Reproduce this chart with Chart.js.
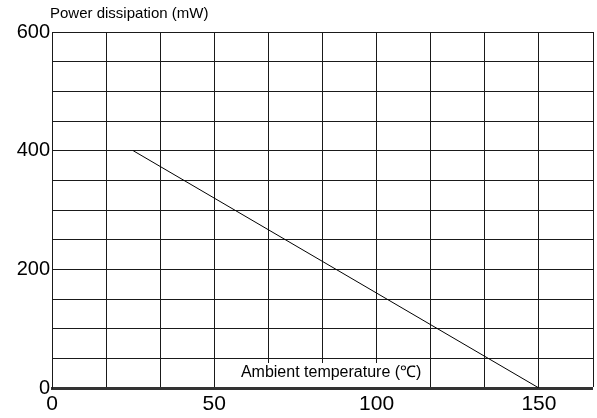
<!DOCTYPE html>
<html>
<head>
<meta charset="utf-8">
<script src="https://cdn.jsdelivr.net/npm/chart.js@4/dist/chart.umd.min.js"></script>
<style>
    html, body { margin: 0; padding: 0; background: #ffffff; }
    #wrap { width: 597px; height: 418px; position: relative; }
</style>
</head>
<body>
<div id="wrap"><canvas id="derating"></canvas></div>
<script>
const temperatures = [25, 150];
const powerValues = [400, 0];

const xLabelTicks = [0, 50, 100, 150];
const yLabelTicks = [0, 200, 400, 600];
const xGridStep = 50 / 3;
const xMax = 500 / 3;
const yGridStep = 50;
const yMax = 600;

const yTitle = "Power dissipation (mW)";
const xTitle = "Ambient temperature (\u2103)";

const fontFamily = "'Liberation Sans', Arial, sans-serif";

const isLabelTick = (value, list) => list.some(v => Math.abs(v - value) < 0.01);

// axis titles: y title above the plot, x title inside the plot on a white box
const axisTextPlugin = {
    id: "axisText",
    beforeDatasetsDraw(chart) {
        const { ctx, chartArea } = chart;
        const x = chart.scales.x;
        ctx.save();
        ctx.font = `16px ${fontFamily}`;
        const w = ctx.measureText(xTitle).width;
        const cx = x.getPixelForValue(86);
        ctx.fillStyle = "#ffffff";
        ctx.fillRect(cx - w / 2 - 4, chartArea.bottom - 25, w + 8, 24);
        ctx.fillStyle = "#000000";
        ctx.textAlign = "center";
        ctx.textBaseline = "middle";
        ctx.fillText(xTitle, cx, chartArea.bottom - 15);
        ctx.restore();
    },
    afterDraw(chart) {
        const { ctx, chartArea } = chart;
        ctx.save();
        ctx.font = `15px ${fontFamily}`;
        ctx.fillStyle = "#000000";
        ctx.textAlign = "left";
        ctx.textBaseline = "middle";
        ctx.fillText(yTitle, chartArea.left - 2, 14);
        ctx.restore();
    }
};

new Chart(document.getElementById("derating"), {
    type: "scatter",
    data: {
        datasets: [{
            data: temperatures.map((t, i) => ({ x: t, y: powerValues[i] })),
            showLine: true,
            borderColor: "#000000",
            borderWidth: 1,
            pointRadius: 0,
            tension: 0
        }]
    },
    options: {
        responsive: true,
        maintainAspectRatio: false,
        animation: false,
        layout: {
            padding: { top: 32, right: 2, left: 0, bottom: 0 }
        },
        plugins: {
            legend: { display: false },
            tooltip: { enabled: false }
        },
        scales: {
            x: {
                type: "linear",
                min: 0,
                max: xMax,
                afterBuildTicks: axis => {
                    const ticks = [];
                    for (let i = 0; i <= 10; i++) {
                        ticks.push({ value: i * xGridStep });
                    }
                    axis.ticks = ticks;
                },
                afterFit: axis => { axis.height = 30; },
                grid: {
                    color: "#1a1a1a",
                    lineWidth: 1,
                    drawTicks: false
                },
                border: { color: "#333333", width: 3 },
                ticks: {
                    color: "#000000",
                    padding: 4,
                    maxRotation: 0,
                    autoSkip: false,
                    font: { family: fontFamily, size: 21 },
                    callback: value => isLabelTick(value, xLabelTicks) ? Math.round(value).toString() : ""
                }
            },
            y: {
                min: 0,
                max: yMax,
                afterBuildTicks: axis => {
                    const ticks = [];
                    for (let v = 0; v <= yMax; v += yGridStep) {
                        ticks.push({ value: v });
                    }
                    axis.ticks = ticks;
                },
                afterFit: axis => { axis.width = 52; },
                grid: {
                    color: "#1a1a1a",
                    lineWidth: 1,
                    drawTicks: false
                },
                border: { color: "#1a1a1a", width: 1 },
                ticks: {
                    color: "#000000",
                    padding: 2,
                    autoSkip: false,
                    font: { family: fontFamily, size: 20 },
                    callback: value => isLabelTick(value, yLabelTicks) ? value.toString() : ""
                }
            }
        }
    },
    plugins: [axisTextPlugin]
});
</script>
</body>
</html>
